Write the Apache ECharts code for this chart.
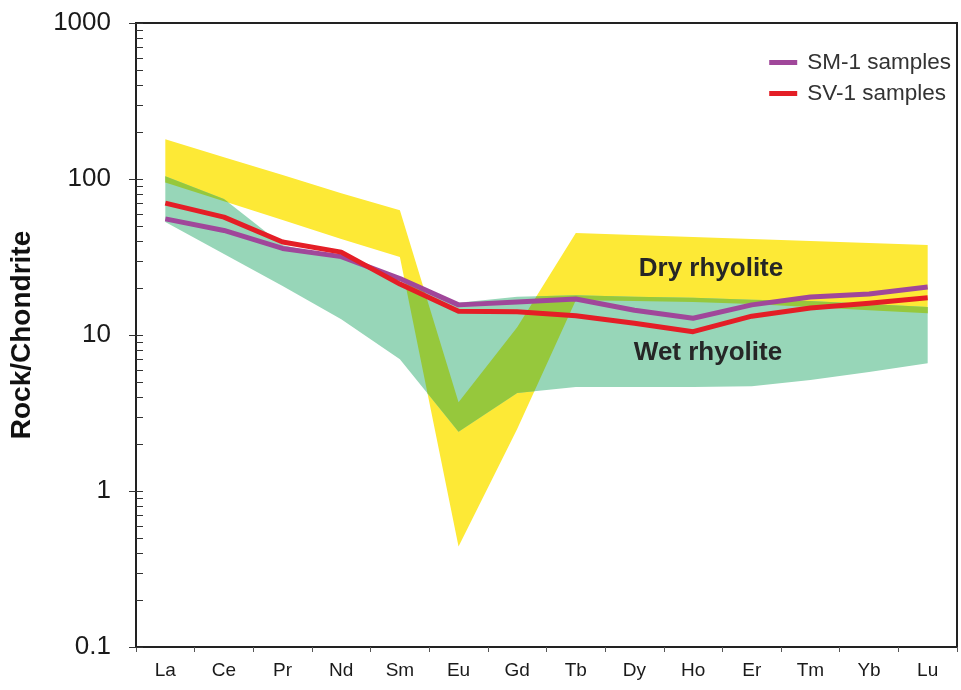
<!DOCTYPE html>
<html>
<head>
<meta charset="utf-8">
<title>REE chondrite-normalized pattern</title>
<script src="https://cdn.jsdelivr.net/npm/echarts@6/dist/echarts.min.js"></script>
<style>
  html, body { margin: 0; padding: 0; background: #fff; }
  #chart { width: 961px; height: 690px; }
</style>
</head>
<body>
<div id="chart"></div>
<script>
// Rare earth elements, chondrite-normalized
const elements = ['La', 'Ce', 'Pr', 'Nd', 'Sm', 'Eu', 'Gd', 'Tb', 'Dy', 'Ho', 'Er', 'Tm', 'Yb', 'Lu'];

// Sample patterns
const sm1Samples = [55.5, 46.8, 35.9, 31.8, 23.0, 15.6, 16.3, 17.0, 14.4, 12.8, 15.6, 17.5, 18.3, 20.3];
const sv1Samples = [70.0, 57.0, 39.5, 34.0, 21.2, 14.2, 14.1, 13.3, 11.9, 10.5, 13.2, 14.9, 16.0, 17.3];

// Dry rhyolite field (upper / lower envelope)
const dryUpper = [180, 138, 106, 81, 63, 3.7, 11.2, 45, 43.8, 42.5, 41.2, 40, 38.9, 37.8];
const dryLower = [95, 72, 54.6, 41.2, 31.6, 0.44, 2.5, 16.7, 16.5, 16.3, 15.8, 15.1, 14.4, 13.8];

// Wet rhyolite field (upper / lower envelope)
const wetUpper = [104, 74.5, 37.8, 31, 22, 16.1, 17.6, 18.0, 17.6, 17.3, 16.8, 16.5, 15.8, 15.1];
const wetLower = [53, 33, 20.6, 12.6, 7.0, 2.4, 4.25, 4.64, 4.64, 4.64, 4.7, 5.15, 5.8, 6.6];

// Log-axis decades used for the inner tick marks
const decades = [0.1, 1, 10, 100];
const yTop = 1000;

const FONT = '"Liberation Sans", Arial, sans-serif';
const DRY_COLOR = '#fde936';
const WET_COLOR = '#97d6b8';
const BOTH_COLOR = '#96c83c';

// Pixel outline of a field: x per category, y of upper and lower envelope
function fieldPixels(api, upper, lower) {
  const xs = [], yU = [], yL = [];
  for (let i = 0; i < upper.length; i++) {
    const pu = api.coord([i, upper[i]]);
    xs.push(pu[0]);
    yU.push(pu[1]);
    yL.push(api.coord([i, lower[i]])[1]);
  }
  return { xs, yU, yL };
}

function fieldPolygon(f) {
  const pts = [];
  for (let i = 0; i < f.xs.length; i++) pts.push([f.xs[i], f.yU[i]]);
  for (let i = f.xs.length - 1; i >= 0; i--) pts.push([f.xs[i], f.yL[i]]);
  return pts;
}

// Region shared by two fields; both are piecewise linear between categories
function overlapPolygons(a, b) {
  const n = a.xs.length;
  const samples = [];
  for (let i = 0; i < n - 1; i++) {
    const ts = [0, 1];
    [[a.yU, b.yU], [a.yL, b.yL], [a.yU, b.yL], [b.yU, a.yL]].forEach(([f, g]) => {
      const d0 = f[i] - g[i], d1 = f[i + 1] - g[i + 1];
      if ((d0 < 0 && d1 > 0) || (d0 > 0 && d1 < 0)) ts.push(d0 / (d0 - d1));
    });
    ts.sort((p, q) => p - q);
    ts.forEach(t => {
      if (i > 0 && t === 0) return;
      const lerp = arr => arr[i] + (arr[i + 1] - arr[i]) * t;
      samples.push({
        x: a.xs[i] + (a.xs[i + 1] - a.xs[i]) * t,
        top: Math.max(lerp(a.yU), lerp(b.yU)),
        bot: Math.min(lerp(a.yL), lerp(b.yL))
      });
    });
  }
  const polys = [];
  let run = [];
  const flush = () => {
    if (run.length >= 2) {
      const pts = run.map(s => [s.x, s.top]);
      for (let k = run.length - 1; k >= 0; k--) pts.push([run[k].x, run[k].bot]);
      polys.push(pts);
    }
    run = [];
  };
  samples.forEach(s => {
    const h = s.bot - s.top;
    if (h > -1e-6) {
      run.push({ x: s.x, top: s.top, bot: Math.max(s.bot, s.top) });
    } else {
      flush();
    }
  });
  flush();
  return polys;
}

const fieldsSeries = {
  name: 'fields',
  type: 'custom',
  coordinateSystem: 'cartesian2d',
  silent: true,
  z: 1,
  data: [[0, dryUpper[0]]],
  renderItem: function (params, api) {
    const dry = fieldPixels(api, dryUpper, dryLower);
    const wet = fieldPixels(api, wetUpper, wetLower);
    const children = [
      { type: 'polygon', shape: { points: fieldPolygon(dry) }, style: { fill: DRY_COLOR } },
      { type: 'polygon', shape: { points: fieldPolygon(wet) }, style: { fill: WET_COLOR } }
    ];
    overlapPolygons(dry, wet).forEach(pts => {
      children.push({ type: 'polygon', shape: { points: pts }, style: { fill: BOTH_COLOR } });
    });
    return { type: 'group', children: children };
  }
};

const innerTicks = {
  name: 'ticks',
  type: 'custom',
  coordinateSystem: 'cartesian2d',
  silent: true,
  z: 5,
  data: [[0, 1]],
  renderItem: function (params, api) {
    const x0 = params.coordSys.x;
    const children = [];
    const values = [];
    decades.forEach(d => { for (let m = 1; m <= 9; m++) values.push(d * m); });
    values.push(yTop);
    values.forEach(v => {
      const y = Math.round(api.coord([0, v])[1]) + 0.5;
      children.push({
        type: 'line',
        shape: { x1: x0, y1: y, x2: x0 + 7, y2: y },
        style: { stroke: '#333', lineWidth: 1 }
      });
    });
    return { type: 'group', children: children };
  }
};

const chart = echarts.init(document.getElementById('chart'), null, { renderer: 'canvas' });

chart.setOption({
  backgroundColor: '#ffffff',
  animation: false,
  grid: {
    left: 136, right: 4, top: 23, bottom: 43,
    show: true, borderColor: '#222', borderWidth: 2, backgroundColor: 'transparent'
  },
  legend: {
    data: ['SM-1 samples', 'SV-1 samples'],
    orient: 'vertical',
    right: 5,
    top: 46,
    itemGap: 8,
    icon: 'rect',
    itemWidth: 28,
    itemHeight: 5,
    textStyle: { fontFamily: FONT, fontSize: 22.5, color: '#333', padding: [0, 0, 0, 5] }
  },
  xAxis: {
    type: 'category',
    data: elements,
    boundaryGap: true,
    axisLine: { lineStyle: { color: '#222', width: 2 } },
    axisTick: { show: true, length: 5, lineStyle: { color: '#555', width: 1 } },
    axisLabel: { fontFamily: FONT, fontSize: 19, color: '#1a1a1a', margin: 14 },
    splitLine: { show: false }
  },
  yAxis: {
    type: 'log',
    logBase: 10,
    min: 0.1,
    max: 1000,
    splitNumber: 4,
    name: 'Rock/Chondrite',
    nameLocation: 'middle',
    nameGap: 100,
    nameTextStyle: { fontFamily: FONT, fontSize: 28, fontWeight: 'bold', color: '#111' },
    axisLine: { show: true, lineStyle: { color: '#222', width: 2 } },
    axisTick: { show: true, inside: false, length: 7, lineStyle: { color: '#333', width: 1 } },
    axisLabel: {
      fontFamily: FONT, fontSize: 26, color: '#1a1a1a', margin: 25,
      formatter: v => String(+v.toPrecision(6))
    },
    splitLine: { show: false },
    minorTick: { show: false }
  },
  graphic: [
    {
      type: 'text', x: 711, y: 269, z: 10,
      style: { text: 'Dry rhyolite', fill: '#262626', font: 'bold 26px ' + FONT, textAlign: 'center', textVerticalAlign: 'middle' }
    },
    {
      type: 'text', x: 708, y: 353, z: 10,
      style: { text: 'Wet rhyolite', fill: '#262626', font: 'bold 26px ' + FONT, textAlign: 'center', textVerticalAlign: 'middle' }
    }
  ],
  series: [
    fieldsSeries,
    innerTicks,
    {
      name: 'SM-1 samples',
      type: 'line',
      data: sm1Samples,
      symbol: 'none',
      z: 3,
      itemStyle: { color: '#a0479a' },
      lineStyle: { color: '#a0479a', width: 5, join: 'round' }
    },
    {
      name: 'SV-1 samples',
      type: 'line',
      data: sv1Samples,
      symbol: 'none',
      z: 4,
      itemStyle: { color: '#e41e26' },
      lineStyle: { color: '#e41e26', width: 5, join: 'round' }
    }
  ]
});
</script>
</body>
</html>
